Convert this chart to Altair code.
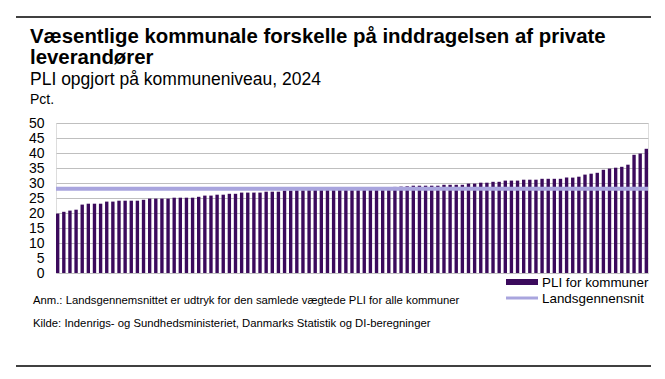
import altair as alt
import pandas as pd

values = [
    19.8, 20.4, 20.8, 21.1, 22.8, 23.1, 23.1, 23.1, 23.8, 23.8,
    24.1, 24.1, 24.1, 24.1, 24.4, 24.8, 24.8, 24.8, 24.8, 25.1,
    25.1, 25.1, 25.1, 25.4, 25.8, 25.8, 26.1, 26.1, 26.4, 26.4,
    26.8, 26.8, 26.8, 26.8, 27.1, 27.1, 27.1, 27.5, 27.5, 27.6,
    27.6, 27.7, 27.7, 27.8, 27.8, 27.9, 27.9, 28.0, 28.0, 28.1,
    28.2, 28.3, 28.4, 28.5, 28.6, 28.7, 28.8, 28.9, 29.1, 29.1,
    29.1, 29.1, 29.1, 29.4, 29.4, 29.4, 29.4, 29.8, 29.8, 30.1,
    30.1, 30.4, 30.4, 30.8, 30.8, 30.8, 31.1, 31.1, 31.1, 31.4,
    31.4, 31.4, 31.4, 31.8, 31.8, 32.1, 32.8, 33.1, 33.4, 34.4,
    34.8, 35.1, 35.4, 36.1, 39.4, 39.8, 41.4,
]
municipality = [f"K{i + 1:02d}" for i in range(len(values))]
national_avg = [28.1]
y_ticks = [0, 5, 10, 15, 20, 25, 30, 35, 40, 45, 50]

title_lines = ["Væsentlige kommunale forskelle på inddragelsen af private", "leverandører"]
subtitle = "PLI opgjort på kommuneniveau, 2024"
unit = "Pct."
legend_labels = ["PLI for kommuner", "Landsgennensnit"]
note = "Anm.: Landsgennemsnittet er udtryk for den samlede vægtede PLI for alle kommuner"
source = "Kilde: Indenrigs- og Sundhedsministeriet, Danmarks Statistik og DI-beregninger"

BAR = "#3b0a5c"
AVG = "#a9a5de"
FONT = "Liberation Sans"
W, H = 592, 150

df = pd.DataFrame({"kommune": municipality, "pli": values})
avg_df = pd.DataFrame({"avg": national_avg})

y_axis = alt.Axis(values=y_ticks, title=None, domain=False, ticks=False,
                  labelOverlap=False, labelFlush=False,
                  labelFontSize=14, labelColor="#000000", labelPadding=12,
                  gridColor="#bfbfbf", gridWidth=1, labelFont=FONT)
y_scale = alt.Scale(domain=[0, 50], nice=False)

bars = alt.Chart(df).mark_bar(color=BAR).encode(
    x=alt.X("kommune:N", sort=None, axis=None,
            scale=alt.Scale(paddingInner=0.45, paddingOuter=0)),
    y=alt.Y("pli:Q", scale=y_scale, axis=y_axis),
)

avg_line = alt.Chart(avg_df).mark_rule(color=AVG, strokeWidth=4).encode(
    y=alt.Y("avg:Q", scale=y_scale, axis=y_axis)
)


def txt(s, x, y, size, bold=False, color="#000000"):
    return alt.Chart(pd.DataFrame({"t": [s]})).mark_text(
        align="left", baseline="alphabetic", fontSize=size, font=FONT,
        fontWeight="bold" if bold else "normal", color=color,
    ).encode(text="t:N", x=alt.value(x), y=alt.value(y))


def rule(x1, x2, y, color, width):
    return alt.Chart(pd.DataFrame({"a": [0]})).mark_rule(
        color=color, strokeWidth=width
    ).encode(x=alt.value(x1), x2=alt.value(x2), y=alt.value(y))


layers = [
    bars,
    avg_line,
    rule(-40, 595, -106, "#000000", 1.5),
    rule(-40, 595, 243, "#000000", 1.5),
    txt(title_lines[0], -26, -80, 20.4, bold=True),
    txt(title_lines[1], -26, -59, 20.4, bold=True),
    txt(subtitle, -26, -38, 17.5),
    txt(unit, -26, -19, 14),
    rule(450, 482, 159, BAR, 6),
    txt(legend_labels[0], 486, 164, 13.4),
    rule(450, 482, 175, AVG, 3),
    txt(legend_labels[1], 486, 180, 13.4),
    txt(note, -23, 181, 11.3),
    txt(source, -23, 204, 11.3),
]

chart = alt.layer(*layers).properties(
    width=W, height=H,
    autosize=alt.AutoSizeParams(type="none"),
    padding={"left": 48, "top": 115, "right": 8, "bottom": 95},
).configure_view(stroke=None).configure(font=FONT, background="#ffffff")

chart.save("out.html", embed_options={"renderer": "svg", "actions": False})
